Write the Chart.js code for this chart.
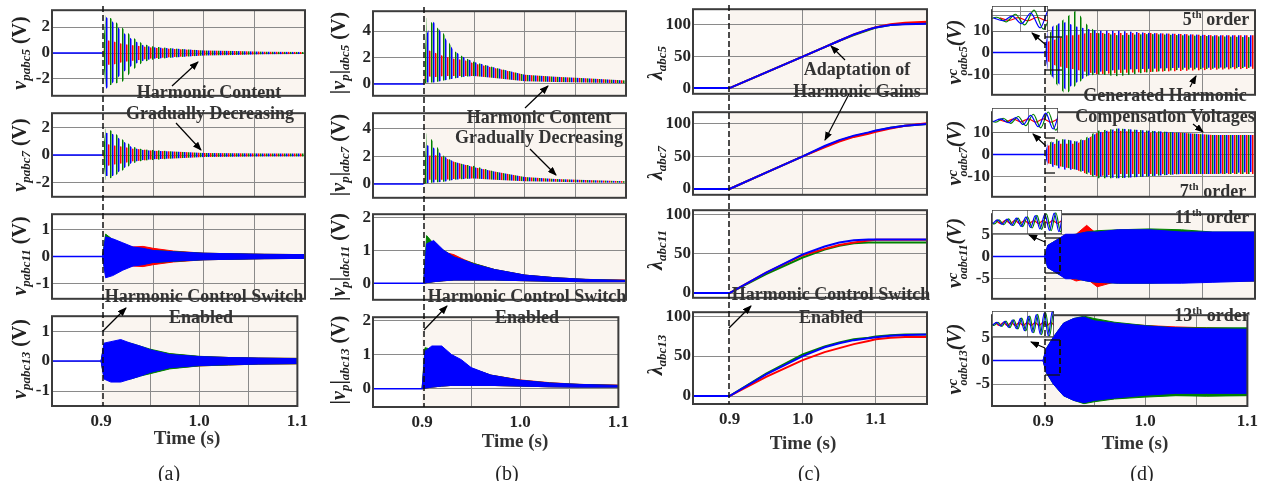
<!DOCTYPE html>
<html>
<head>
<meta charset="utf-8">
<script src="https://cdn.jsdelivr.net/npm/chart.js@4.4.0/dist/chart.umd.min.js"></script>
<style>
body{margin:0;background:#fff;width:1263px;height:481px;position:relative;overflow:hidden;font-family:'Liberation Serif','Times New Roman',serif;}
.box{position:absolute;}
.box canvas{display:block;}
.note{position:absolute;transform:translate(-50%,-50%);white-space:nowrap;font-weight:bold;font-size:18px;color:#333;z-index:6;line-height:1;}
.note sup{font-size:11px;vertical-align:7px;line-height:0;}
.ytl{position:absolute;transform:translate(-50%,-50%) rotate(-90deg);white-space:nowrap;font-weight:bold;font-size:20px;color:#222;z-index:6;line-height:1;}
.ytl sub{font-size:13px;vertical-align:-4px;line-height:0;font-weight:bold;}
.ss{display:inline-block;vertical-align:-6px;line-height:11px;font-size:12px;text-align:left;}
.ss span{display:block;}
.ss span.c{font-size:15px;}
.cap{position:absolute;transform:translate(-50%,-50%);white-space:nowrap;font-size:20px;color:#222;z-index:6;}
.tt{position:absolute;transform:translate(-50%,-50%);white-space:nowrap;font-size:19px;font-weight:bold;color:#333;z-index:6;}
svg{position:absolute;left:0;top:0;z-index:5;}
</style>
</head>
<body>
<script>
// colours of the three phases
const C_RED = '#ff0000', C_GREEN = '#008000', C_BLUE = '#0000ff';
const beige = '#faf5f0';

// time samples (s)
const tPre = [0.85, 0.9];
const tOsc = [0.9, 0.903, 0.91, 0.92, 0.93, 0.94, 0.95, 0.97, 1.0, 1.03, 1.06, 1.1];
const tGain = [0.85, 0.9, 0.95, 1.0, 1.03, 1.05, 1.07, 1.09, 1.1, 1.12, 1.14, 1.17];

// (a) v_pabc envelopes (upper / lower)
const a5BlueHi = [0, 2.8, 2.4, 1.6, 1.0, 0.6, 0.45, 0.35, 0.2, 0.15, 0.1, 0.08];
const a5BlueLo = [0, -2.8, -2.3, -1.5, -0.9, -0.6, -0.45, -0.35, -0.2, -0.15, -0.1, -0.08];
const a5GreenHi = [0, 2.9, 2.6, 1.9, 1.2, 0.7, 0.5, 0.35, 0.2, 0.15, 0.1, 0.08];
const a5GreenLo = [0, -2.6, -2.4, -2.2, -1.3, -0.7, -0.5, -0.35, -0.2, -0.15, -0.1, -0.08];
const a5RedHi = [0, 1.0, 0.9, 0.7, 0.6, 0.5, 0.4, 0.3, 0.2, 0.15, 0.1, 0.08];
const a5RedLo = [0, -0.9, -0.9, -0.7, -0.6, -0.5, -0.4, -0.3, -0.2, -0.15, -0.1, -0.08];

const a7BlueHi = [0, 1.6, 1.5, 1.0, 0.5, 0.35, 0.3, 0.25, 0.15, 0.12, 0.1, 0.1];
const a7BlueLo = [0, -1.5, -1.5, -1.0, -0.5, -0.35, -0.3, -0.25, -0.15, -0.12, -0.1, -0.1];
const a7GreenHi = [0, 1.9, 1.7, 1.1, 0.6, 0.4, 0.35, 0.25, 0.15, 0.12, 0.1, 0.1];
const a7GreenLo = [0, -1.8, -1.6, -1.1, -0.6, -0.4, -0.35, -0.25, -0.15, -0.12, -0.1, -0.1];
const a7RedHi = [0, 0.8, 0.7, 0.6, 0.45, 0.4, 0.3, 0.25, 0.15, 0.12, 0.1, 0.1];
const a7RedLo = [0, -0.8, -0.7, -0.6, -0.45, -0.4, -0.3, -0.25, -0.15, -0.12, -0.1, -0.1];

const a11BlueHi = [0, 0.72, 0.65, 0.5, 0.35, 0.3, 0.22, 0.17, 0.12, 0.1, 0.08, 0.07];
const a11BlueLo = [0, -0.78, -0.7, -0.5, -0.35, -0.3, -0.22, -0.17, -0.12, -0.1, -0.08, -0.07];
const a11GreenHi = [0, 0.82, 0.62, 0.45, 0.3, 0.25, 0.22, 0.18, 0.12, 0.1, 0.08, 0.07];
const a11GreenLo = [0, -0.7, -0.62, -0.45, -0.3, -0.25, -0.22, -0.18, -0.12, -0.1, -0.08, -0.07];
const a11RedHi = [0, 0.6, 0.5, 0.4, 0.35, 0.37, 0.3, 0.2, 0.12, 0.1, 0.08, 0.07];
const a11RedLo = [0, -0.6, -0.5, -0.4, -0.35, -0.37, -0.3, -0.2, -0.12, -0.1, -0.08, -0.07];

const a13BlueHi = [0, 0.6, 0.65, 0.72, 0.6, 0.5, 0.38, 0.22, 0.15, 0.12, 0.1, 0.08];
const a13BlueLo = [0, -0.6, -0.7, -0.7, -0.6, -0.5, -0.38, -0.22, -0.15, -0.12, -0.1, -0.08];
const a13GreenHi = [0, 0.55, 0.6, 0.65, 0.6, 0.5, 0.4, 0.25, 0.16, 0.12, 0.1, 0.09];
const a13GreenLo = [0, -0.55, -0.6, -0.65, -0.6, -0.5, -0.42, -0.26, -0.16, -0.13, -0.1, -0.09];
const a13RedHi = [0, 0.5, 0.55, 0.6, 0.55, 0.45, 0.35, 0.24, 0.15, 0.12, 0.1, 0.09];
const a13RedLo = [0, -0.5, -0.55, -0.6, -0.55, -0.45, -0.35, -0.24, -0.16, -0.13, -0.1, -0.09];

// (b) |v_p| envelopes
const b5GreenHi = [0, 5.0, 4.5, 3.8, 2.5, 2.0, 1.65, 1.25, 0.7, 0.55, 0.42, 0.25];
const b5GreenLo = [0, 0.1, 0.1, 0.25, 0.4, 0.55, 0.6, 0.45, 0.2, 0.15, 0.1, 0.05];
const b5BlueHi = [0, 3.8, 4.7, 3.6, 2.5, 2.0, 1.65, 1.25, 0.7, 0.55, 0.42, 0.25];
const b5BlueLo = [0, 0.1, 0.1, 0.25, 0.4, 0.55, 0.6, 0.45, 0.2, 0.15, 0.1, 0.05];
const b5RedHi = [0, 2.6, 2.4, 2.1, 1.9, 1.8, 1.55, 1.2, 0.7, 0.55, 0.42, 0.25];
const b5RedLo = [0, 0.6, 0.5, 0.6, 0.6, 0.6, 0.6, 0.45, 0.2, 0.15, 0.1, 0.05];

const b7GreenHi = [0, 3.65, 3.0, 2.0, 1.6, 1.4, 1.3, 0.9, 0.5, 0.35, 0.28, 0.2];
const b7GreenLo = [0, 0.05, 0.1, 0.15, 0.3, 0.35, 0.4, 0.3, 0.2, 0.15, 0.1, 0.08];
const b7BlueHi = [0, 2.8, 2.6, 2.0, 1.6, 1.4, 1.2, 0.9, 0.5, 0.35, 0.28, 0.2];
const b7BlueLo = [0, 0.05, 0.1, 0.15, 0.3, 0.35, 0.4, 0.3, 0.2, 0.15, 0.1, 0.08];
const b7RedHi = [0, 2.0, 2.1, 1.9, 1.6, 1.4, 1.2, 0.9, 0.5, 0.35, 0.28, 0.2];
const b7RedLo = [0, 0.3, 0.3, 0.3, 0.35, 0.4, 0.4, 0.3, 0.2, 0.15, 0.1, 0.08];

const b11GreenHi = [0, 1.45, 1.2, 1.0, 0.8, 0.7, 0.6, 0.42, 0.25, 0.17, 0.12, 0.09];
const b11BlueHi = [0, 1.2, 1.3, 1.0, 0.8, 0.7, 0.58, 0.42, 0.25, 0.17, 0.12, 0.09];
const b11RedHi = [0, 1.0, 1.0, 0.95, 0.87, 0.72, 0.6, 0.42, 0.25, 0.17, 0.12, 0.1];
const b11Lo = [0, 0.02, 0.05, 0.08, 0.1, 0.1, 0.1, 0.1, 0.08, 0.06, 0.05, 0.05];

const b13BlueHi = [0, 1.1, 1.25, 1.25, 1.0, 0.85, 0.62, 0.4, 0.25, 0.17, 0.13, 0.1];
const b13GreenHi = [0, 1.2, 1.15, 1.15, 0.95, 0.8, 0.6, 0.4, 0.25, 0.17, 0.13, 0.1];
const b13RedHi = [0, 0.9, 1.0, 1.0, 0.9, 0.75, 0.6, 0.4, 0.26, 0.18, 0.13, 0.11];
const b13Lo = [0, 0.02, 0.05, 0.08, 0.1, 0.1, 0.1, 0.1, 0.08, 0.06, 0.05, 0.05];

// (c) adaptive gains lambda
const c5Blue = [0, 0, 25, 50, 65, 75, 85, 93, 96, 100, 101, 102];
const c5Green = [0, 0, 25, 50, 65, 75, 84, 92, 96, 100, 102, 103];
const c5Red = [0, 0, 25, 50, 65, 75, 85, 93, 96.5, 101, 103.5, 105];
const c7Blue = [0, 0, 25, 50, 66, 75, 82, 87, 90, 94, 97, 100];
const c7Green = [0, 0, 25, 50, 65, 74, 81, 86, 89, 94, 97, 100];
const c7Red = [0, 0, 25, 50, 64, 73, 80, 85, 88, 93, 97, 101];
const c11Blue = [0, 0, 26, 49, 59, 64, 67, 68, 68, 68, 68, 68];
const c11Green = [0, 0, 24, 45, 55, 60, 63, 64, 64, 64, 64, 64];
const c11Red = [0, 0, 26, 48, 56, 61, 64, 66.5, 67.5, 67.5, 67.5, 67.5];
const c13Blue = [0, 0, 27, 50, 61, 66, 70, 72.5, 73.5, 75.5, 76.5, 77];
const c13Green = [0, 0, 28, 52, 62, 67, 71, 73, 74.5, 76, 77, 77];
const c13Red = [0, 0, 24, 45, 55, 60, 65, 69, 71, 73, 74, 74];

// (d) generated compensation voltage envelopes
const d5BlueHi = [0, 10, 13, 14, 12, 11, 10, 10, 9, 8.5, 8, 8];
const d5BlueLo = [0, -8, -13, -17, -14, -11, -9, -8, -7.5, -7, -7, -6.5];
const d5GreenHi = [0, 8, 12, 16, 19.5, 13, 9, 8, 8.5, 8, 7.5, 7];
const d5GreenLo = [0, -8, -14, -19.5, -15, -11, -10, -11, -9, -8, -7.5, -7];
const d5RedHi = [0, 5, 6, 8, 8, 9, 9, 9, 9, 8.5, 8, 8];
const d5RedLo = [0, -4, -6, -7, -8, -9, -10, -9.5, -9, -8.5, -8, -7.5];

const d7BlueHi = [0, 5, 6, 7, 6, 7, 10, 12, 11, 10, 9, 9];
const d7BlueLo = [0, -5, -6, -7, -7, -8, -10, -11, -10, -9, -9, -8];
const d7GreenHi = [0, 5, 7, 7, 6, 8, 11, 12, 11, 10, 9, 9];
const d7GreenLo = [0, -4, -5, -6, -7, -9, -11, -11, -10, -9, -9, -9];
const d7RedHi = [0, 4, 5, 5, 5, 7, 10, 11, 10, 10, 9, 9];
const d7RedLo = [0, -4, -5, -6, -7, -9, -10, -9, -9, -9, -9, -9];

const d11BlueHi = [0, 2.5, 3.5, 5, 5, 5.5, 5.5, 6, 6, 5.5, 5.5, 5.5];
const d11BlueLo = [0, -2.5, -3.5, -5, -5, -5.5, -5.8, -6, -6, -6, -5.8, -5.5];
const d11GreenHi = [0, 2.5, 3.5, 4.8, 5, 5.5, 5.8, 6, 6.2, 6, 5.5, 5.5];
const d11GreenLo = [0, -2.5, -3.5, -4.8, -5, -5.5, -5.8, -6, -6, -5.8, -5.5, -5.5];
const d11RedHi = [0, 2, 3, 4.5, 5, 7, 5, 5.5, 5.5, 5.5, 5, 5];
const d11RedLo = [0, -2, -3, -4.5, -5.5, -5, -6.8, -5.5, -5.5, -5.5, -5.5, -5.5];

const d13BlueHi = [0, 2.5, 5, 8, 9, 9.3, 8.5, 8, 7.4, 7, 6.8, 6.7];
const d13BlueLo = [0, -2.5, -5, -7.5, -8.5, -9, -8.5, -8, -7.4, -7, -7, -7];
const d13GreenHi = [0, 2.5, 5, 8, 9, 9.5, 9, 8.2, 7.5, 7, 7, 7];
const d13GreenLo = [0, -2.5, -5, -7.5, -8.5, -9.2, -8.8, -8.2, -7.8, -7.5, -7.6, -7.5];
const d13RedHi = [0, 2.3, 4.8, 7.8, 8.8, 9, 8.5, 8, 7.5, 7.2, 7, 6.8];
const d13RedLo = [0, -2.3, -4.8, -7.3, -8.3, -8.8, -8.5, -8.1, -7.6, -7.4, -7.5, -7.4];

// zoomed insets of (d): extrema in cycles
const in5Time = [-0.25, 0.25, 0.75, 1.25, 1.75, 2.25, 2.75, 3.25];
const in5Green = [-0.1, 0.15, -0.25, 0.4, -0.5, 0.75, -0.85, 0.9];
const in5Blue = [0.1, -0.15, 0.25, -0.4, 0.5, -0.75, 0.85, -0.9];
const in5Red = [0.1, -0.12, 0.12, -0.15, 0.15, -0.15, 0.15, -0.15];
const in7Time = [-0.25, 0.25, 0.75, 1.25, 1.75, 2.25, 2.75, 3.25, 3.75, 4.25, 4.75];
const in7Green = [0.1, -0.15, 0.2, -0.25, 0.35, -0.45, 0.55, -0.65, 0.75, -0.85, 0.9];
const in7Blue = [-0.1, 0.15, -0.2, 0.25, -0.35, 0.45, -0.55, 0.65, -0.75, 0.85, -0.9];
const in7Red = [0.1, -0.1, 0.12, -0.12, 0.14, -0.14, 0.15, -0.15, 0.12, -0.12, 0.1];
const in11Time = [-0.25, 0.25, 0.75, 1.25, 1.75, 2.25, 2.75, 3.25, 3.75, 4.25, 4.75, 5.25, 5.75, 6.25, 6.75, 7.25, 7.75];
const in11Green = [0.15, -0.18, 0.2, -0.25, 0.28, -0.32, 0.36, -0.42, 0.48, -0.55, 0.6, -0.68, 0.74, -0.8, 0.85, -0.9, 0.9];
const in11Blue = [-0.15, 0.2, -0.22, 0.26, -0.3, 0.35, -0.4, 0.45, -0.5, 0.58, -0.64, 0.7, -0.76, 0.82, -0.88, 0.92, -0.92];
const in11Red = [0.15, -0.15, 0.15, -0.14, 0.14, -0.14, 0.13, -0.13, 0.13, -0.12, 0.12, -0.12, 0.12, -0.12, 0.12, -0.12, 0.12];
const in13Time = [-0.25, 0.25, 0.75, 1.25, 1.75, 2.25, 2.75, 3.25, 3.75, 4.25, 4.75, 5.25, 5.75, 6.25, 6.75, 7.25, 7.75, 8.25];
const in13Green = [0.1, -0.12, 0.15, -0.2, 0.25, -0.3, 0.35, -0.42, 0.5, -0.58, 0.66, -0.74, 0.82, -0.9, 0.95, -1.0, 1.0, -1.0];
const in13Blue = [-0.1, 0.14, -0.18, 0.22, -0.28, 0.34, -0.4, 0.48, -0.56, 0.64, -0.72, 0.8, -0.88, 0.95, -1.0, 1.05, -1.05, 1.05];
const in13Red = [0.12, -0.12, 0.12, -0.12, 0.12, -0.12, 0.12, -0.12, 0.12, -0.12, 0.12, -0.12, 0.12, -0.12, 0.12, -0.12, 0.12, -0.12];
const inShift = [0, 0.33, 0.67]; // green, blue, red

// tick values
const xLabels = [0.9, 1.0, 1.1];
const ticksA5 = [-2, 0, 2], ticksA11 = [-1, 0, 1];
const ticksB5 = [0, 2, 4], ticksB11 = [0, 1, 2];
const ticksC = [0, 50, 100];
const ticksD5 = [-10, 0, 10], ticksD11 = [-5, 0, 5];

// layout of the four columns
const cols = {
  a: {L: 52, R: 305, xmax: 1.1, grid: [0.9, 0.95, 1.0, 1.05, 1.1], rows: [[6, 100], [109, 201], [210, 303], [312, 406]]},
  b: {L: 373, R: 626, xmax: 1.1, grid: [0.9, 0.95, 1.0, 1.05, 1.1], rows: [[7, 100], [109, 202], [210, 304], [313, 407]]},
  c: {L: 693, R: 927, xmax: 1.17, grid: [0.9, 1.0, 1.1], rows: [[5, 98], [108, 199], [206, 302], [308, 404]]},
  d: {L: 992, R: 1255, xmax: 1.1, grid: [0.9, 0.95, 1.0, 1.05, 1.1], rows: [[6, 99], [108, 201], [210, 303], [311, 406]]}
};

const tickFont = {family: "'Liberation Serif', serif", size: 17, weight: 'bold'};

const frame = {
  id: 'frame',
  beforeDraw(chart, args, o) {
    const a = chart.chartArea, g = chart.ctx;
    g.save();
    g.fillStyle = '#fff';
    g.fillRect(a.left, a.top, a.width, a.height);
    if (o.shade) {
      const x0 = chart.scales.x.getPixelForValue(0.9);
      g.fillStyle = beige;
      g.fillRect(x0, a.top, a.right - x0, a.height);
    }
    g.restore();
  },
  afterDraw(chart, args, o) {
    const a = chart.chartArea, g = chart.ctx;
    g.save();
    g.strokeStyle = '#3c3c3c';
    g.lineWidth = o.lw || 2;
    g.strokeRect(a.left, a.top, a.width, a.height);
    g.restore();
  }
};

function stripe(ctx, col, off) {
  const c = document.createElement('canvas');
  c.width = 6; c.height = 2;
  const g = c.getContext('2d');
  g.fillStyle = col;
  g.fillRect(off, 0, 1.5, 2);
  return ctx.createPattern(c, 'repeat');
}

function pts(t, v) {
  return t.map((x, i) => ({x: x, y: v[i]}));
}

function oscSets(ctx, p) {
  const sets = [{data: pts(tPre, [0, 0]), borderColor: C_BLUE, borderWidth: 1.5, fill: false, order: -1}];
  const phases = [['b', C_BLUE, 4, 0], ['g', C_GREEN, 2, 1], ['r', C_RED, 0, 2]];
  phases.forEach(([k, col, off, ord]) => {
    const hi = p.bands[k][0], lo = p.bands[k][1];
    const striped = p.kind === 'stripe';
    const line = striped ? 'rgba(0,0,0,0)' : col;
    sets.push({data: pts(tOsc, hi), borderColor: line, borderWidth: 1, backgroundColor: striped ? stripe(ctx, col, off) : col, fill: '+1', order: ord});
    sets.push({data: pts(tOsc, lo), borderColor: line, borderWidth: 1, fill: false, order: ord});
  });
  return sets;
}

function gainSets(p) {
  return [
    {data: pts(tGain, p.lines.b), borderColor: C_BLUE, borderWidth: 2, fill: false, order: 0},
    {data: pts(tGain, p.lines.r), borderColor: C_RED, borderWidth: 2, fill: false, order: 1},
    {data: pts(tGain, p.lines.g), borderColor: C_GREEN, borderWidth: 2, fill: false, order: 2}
  ];
}

function makePanel(p) {
  const col = cols[p.col];
  const [T, B] = col.rows[p.row];
  const bottom = p.row === 3;
  const yw = 40, pad = 8, xh = bottom ? 30 : 0;
  const w = col.R - col.L + yw + pad, h = B - T + 2 * pad + xh;
  const div = document.createElement('div');
  div.className = 'box';
  div.style.left = (col.L - yw) + 'px';
  div.style.top = (T - pad) + 'px';
  const cv = document.createElement('canvas');
  cv.width = w; cv.height = h;
  div.appendChild(cv);
  document.body.appendChild(div);
  const ctx = cv.getContext('2d');
  const datasets = p.lines ? gainSets(p) : oscSets(ctx, p);
  new Chart(cv, {
    type: 'line',
    data: {datasets: datasets},
    options: {
      responsive: false, animation: false, events: [],
      layout: {autoPadding: false, padding: {top: pad, right: pad, bottom: pad, left: 0}},
      elements: {point: {radius: 0}, line: {tension: 0}},
      plugins: {legend: {display: false}, tooltip: {enabled: false}, frame: {shade: true}},
      scales: {
        x: {
          type: 'linear', min: 0.85, max: col.xmax,
          afterFit: s => { s.height = xh; },
          afterBuildTicks: s => { s.ticks = col.grid.map(v => ({value: v})); },
          ticks: {display: bottom, autoSkip: false, maxRotation: 0, padding: 5, font: tickFont, color: '#262626',
            callback: v => xLabels.includes(v) ? v.toFixed(1) : ''},
          grid: {drawTicks: false, lineWidth: 1, color: c => (c.tick && c.tick.value === 0.9) ? 'rgba(0,0,0,0)' : '#8a8a8a'},
          border: {display: false}
        },
        y: {
          min: p.ymin, max: p.ymax,
          afterFit: s => { s.width = yw; },
          afterBuildTicks: s => { s.ticks = p.yticks.map(v => ({value: v})); },
          ticks: {padding: 2, font: tickFont, color: '#262626', callback: v => String(v)},
          grid: {drawTicks: false, lineWidth: 1, color: '#8a8a8a'},
          border: {display: false}
        }
      }
    },
    plugins: [frame]
  });
}

function makeInset(q) {
  const div = document.createElement('div');
  div.className = 'box';
  div.style.left = q.L + 'px';
  div.style.top = q.T + 'px';
  div.style.zIndex = 3;
  const cv = document.createElement('canvas');
  cv.width = q.R - q.L; cv.height = q.B - q.T;
  div.appendChild(cv);
  document.body.appendChild(div);
  const mk = (v, i, col) => ({data: pts(q.time.map(t => t + inShift[i]), v), borderColor: col, borderWidth: 1.2,
    cubicInterpolationMode: 'monotone', fill: false});
  new Chart(cv, {
    type: 'line',
    data: {datasets: [mk(q.blue, 1, C_BLUE), mk(q.green, 0, C_GREEN), mk(q.red, 2, C_RED)]},
    options: {
      responsive: false, animation: false, events: [],
      layout: {autoPadding: false, padding: 0},
      elements: {point: {radius: 0}},
      plugins: {legend: {display: false}, tooltip: {enabled: false}, frame: {shade: false, lw: 1.5}},
      scales: {
        x: {type: 'linear', min: 0, max: q.span, afterFit: s => { s.height = 0; },
          afterBuildTicks: s => { s.ticks = [{value: q.gx}]; },
          ticks: {display: false}, grid: {drawTicks: false, color: '#8a8a8a'}, border: {display: false}},
        y: {min: -1.1, max: 1.1, afterFit: s => { s.width = 0; },
          afterBuildTicks: s => { s.ticks = q.gy.map(v => ({value: v})); },
          ticks: {display: false}, grid: {drawTicks: false, color: '#8a8a8a'}, border: {display: false}}
      }
    },
    plugins: [frame]
  });
}

const panels = [
  {col: 'a', row: 0, ymin: -3.3, ymax: 3.3, yticks: ticksA5, kind: 'stripe', bands: {b: [a5BlueHi, a5BlueLo], g: [a5GreenHi, a5GreenLo], r: [a5RedHi, a5RedLo]}},
  {col: 'a', row: 1, ymin: -3, ymax: 3, yticks: ticksA5, kind: 'stripe', bands: {b: [a7BlueHi, a7BlueLo], g: [a7GreenHi, a7GreenLo], r: [a7RedHi, a7RedLo]}},
  {col: 'a', row: 2, ymin: -1.55, ymax: 1.55, yticks: ticksA11, kind: 'solid', bands: {b: [a11BlueHi, a11BlueLo], g: [a11GreenHi, a11GreenLo], r: [a11RedHi, a11RedLo]}},
  {col: 'a', row: 3, ymin: -1.5, ymax: 1.5, yticks: ticksA11, kind: 'solid', bands: {b: [a13BlueHi, a13BlueLo], g: [a13GreenHi, a13GreenLo], r: [a13RedHi, a13RedLo]}},
  {col: 'b', row: 0, ymin: -0.9, ymax: 5.5, yticks: ticksB5, kind: 'stripe', bands: {b: [b5BlueHi, b5BlueLo], g: [b5GreenHi, b5GreenLo], r: [b5RedHi, b5RedLo]}},
  {col: 'b', row: 1, ymin: -1, ymax: 5.1, yticks: ticksB5, kind: 'stripe', bands: {b: [b7BlueHi, b7BlueLo], g: [b7GreenHi, b7GreenLo], r: [b7RedHi, b7RedLo]}},
  {col: 'b', row: 2, ymin: -0.5, ymax: 2.1, yticks: ticksB11, kind: 'solid', bands: {b: [b11BlueHi, b11Lo], g: [b11GreenHi, b11Lo], r: [b11RedHi, b11Lo]}},
  {col: 'b', row: 3, ymin: -0.53, ymax: 2.09, yticks: ticksB11, kind: 'solid', bands: {b: [b13BlueHi, b13Lo], g: [b13GreenHi, b13Lo], r: [b13RedHi, b13Lo]}},
  {col: 'c', row: 0, ymin: -9, ymax: 125, yticks: ticksC, lines: {b: c5Blue, g: c5Green, r: c5Red}},
  {col: 'c', row: 1, ymin: -9, ymax: 118, yticks: ticksC, lines: {b: c7Blue, g: c7Green, r: c7Red}},
  {col: 'c', row: 2, ymin: -6, ymax: 105, yticks: ticksC, lines: {b: c11Blue, g: c11Green, r: c11Red}},
  {col: 'c', row: 3, ymin: -10, ymax: 105, yticks: ticksC, lines: {b: c13Blue, g: c13Green, r: c13Red}},
  {col: 'd', row: 0, ymin: -19.5, ymax: 19.5, yticks: ticksD5, kind: 'stripe', bands: {b: [d5BlueHi, d5BlueLo], g: [d5GreenHi, d5GreenLo], r: [d5RedHi, d5RedLo]}},
  {col: 'd', row: 1, ymin: -19.5, ymax: 19.5, yticks: ticksD5, kind: 'stripe', bands: {b: [d7BlueHi, d7BlueLo], g: [d7GreenHi, d7GreenLo], r: [d7RedHi, d7RedLo]}},
  {col: 'd', row: 2, ymin: -9.5, ymax: 9.5, yticks: ticksD11, kind: 'solid', bands: {b: [d11BlueHi, d11BlueLo], g: [d11GreenHi, d11GreenLo], r: [d11RedHi, d11RedLo]}},
  {col: 'd', row: 3, ymin: -9.7, ymax: 9.7, yticks: ticksD11, kind: 'solid', bands: {b: [d13BlueHi, d13BlueLo], g: [d13GreenHi, d13GreenLo], r: [d13RedHi, d13RedLo]}}
];
panels.forEach(makePanel);

const insets = [
  {L: 992, T: 6, R: 1048, B: 32, span: 3, gx: 1.55, gy: [0.3, 0.6], time: in5Time, green: in5Green, blue: in5Blue, red: in5Red},
  {L: 992, T: 108, R: 1058, B: 133, span: 4.4, gx: 2.4, gy: [], time: in7Time, green: in7Green, blue: in7Blue, red: in7Red},
  {L: 992, T: 210, R: 1062, B: 234, span: 7.4, gx: 3.8, gy: [], time: in11Time, green: in11Green, blue: in11Blue, red: in11Red},
  {L: 992, T: 311, R: 1054, B: 337, span: 7.8, gx: 4.5, gy: [], time: in13Time, green: in13Green, blue: in13Blue, red: in13Red}
];
insets.forEach(makeInset);

// y-axis titles
const yTitles = [
  ['<i>v</i><sub><i>pabc5</i></sub> (V)', 19, 53], ['<i>v</i><sub><i>pabc7</i></sub> (V)', 19, 155],
  ['<i>v</i><sub><i>pabc11</i></sub> (V)', 19, 256], ['<i>v</i><sub><i>pabc13</i></sub> (V)', 19, 359],
  ['|<i>v</i><sub><i>p</i></sub>|<sub><i>abc5</i></sub> (V)', 338, 53], ['|<i>v</i><sub><i>p</i></sub>|<sub><i>abc7</i></sub> (V)', 338, 155],
  ['|<i>v</i><sub><i>p</i></sub>|<sub><i>abc11</i></sub> (V)', 338, 257], ['|<i>v</i><sub><i>p</i></sub>|<sub><i>abc13</i></sub> (V)', 338, 360],
  ['<i>λ</i><sub><i>abc5</i></sub>', 655, 63], ['<i>λ</i><sub><i>abc7</i></sub>', 655, 163],
  ['<i>λ</i><sub><i>abc11</i></sub>', 655, 250], ['<i>λ</i><sub><i>abc13</i></sub>', 655, 355],
  ['<i>v</i><span class="ss"><span class="c"><i>c</i></span><span><i>oabc5</i></span></span><i>(V)</i>', 956, 52],
  ['<i>v</i><span class="ss"><span class="c"><i>c</i></span><span><i>oabc7</i></span></span><i>(V)</i>', 956, 153],
  ['<i>v</i><span class="ss"><span class="c"><i>c</i></span><span><i>oabc11</i></span></span><i>(V)</i>', 956, 253],
  ['<i>v</i><span class="ss"><span class="c"><i>c</i></span><span><i>oabc13</i></span></span><i>(V)</i>', 956, 359]
];
yTitles.forEach(([html, x, y]) => {
  const d = document.createElement('div');
  d.className = 'ytl'; d.innerHTML = html;
  d.style.left = x + 'px'; d.style.top = y + 'px';
  document.body.appendChild(d);
});

const notes = [
  ['Harmonic Content', 209, 92], ['Gradually Decreasing', 210, 113],
  ['Harmonic Control Switch', 204, 296], ['Enabled', 201, 317],
  ['Harmonic Content', 539, 117], ['Gradually Decreasing', 539, 137],
  ['Harmonic Control Switch', 527, 296], ['Enabled', 527, 317],
  ['Adaptation of', 857, 69], ['Harmonic Gains', 857, 91],
  ['Harmonic Control Switch', 831, 294], ['Enabled', 831, 317],
  ['Generated Harmonic', 1165, 95], ['Compensation Voltages', 1165, 116],
  ['5<sup>th</sup> order', 1216, 19], ['7<sup>th</sup> order', 1213, 191],
  ['11<sup>th</sup> order', 1212, 217], ['13<sup>th</sup> order', 1212, 315]
];
notes.forEach(([html, x, y]) => {
  const d = document.createElement('div');
  d.className = 'note'; d.innerHTML = html;
  d.style.left = x + 'px'; d.style.top = y + 'px';
  document.body.appendChild(d);
});

[['Time (s)', 187, 438], ['Time (s)', 515, 441], ['Time (s)', 803, 443], ['Time (s)', 1135, 443]].forEach(([s, x, y]) => {
  const d = document.createElement('div');
  d.className = 'tt'; d.textContent = s;
  d.style.left = x + 'px'; d.style.top = y + 'px';
  document.body.appendChild(d);
});
[['(a)', 169, 473], ['(b)', 507, 473], ['(c)', 809, 473], ['(d)', 1142, 473]].forEach(([s, x, y]) => {
  const d = document.createElement('div');
  d.className = 'cap'; d.textContent = s;
  d.style.left = x + 'px'; d.style.top = y + 'px';
  document.body.appendChild(d);
});

// overlay: switch-on dashed lines, arrows, zoom brackets
const arrows = [
  [172, 86, 198, 62], [176, 123, 201, 150], [103, 331, 126, 308],
  [525, 108, 548, 86], [530, 149, 556, 175], [424, 330, 447, 306],
  [845, 60, 831, 46], [849, 94, 825, 140], [729, 328, 751, 306],
  [1190, 87, 1196, 76], [1193, 124, 1203, 132],
  [1046, 45, 1032, 33], [1046, 146, 1033, 134], [1045, 242, 1029, 235], [1045, 348, 1031, 342]
];
const dashCols = [[103, 6, 406], [424, 7, 407], [729, 5, 404], [1045, 6, 406]];
const brackets = [[37, 70, 1062, false], [138, 173, 1055, false], [238, 273, 1060, true], [340, 375, 1060, true]];
let svg = '<svg width="1263" height="481" xmlns="http://www.w3.org/2000/svg"><defs>' +
  '<marker id="ah" markerWidth="9" markerHeight="7" refX="8" refY="3.5" orient="auto" markerUnits="userSpaceOnUse">' +
  '<path d="M0,0 L9,3.5 L0,7 z" fill="#000"/></marker></defs>';
dashCols.forEach(([x, y1, y2]) => {
  svg += `<line x1="${x}" y1="${y1}" x2="${x}" y2="${y2}" stroke="#111" stroke-width="1.5" stroke-dasharray="6,3"/>`;
});
brackets.forEach(([y1, y2, x2, dashed]) => {
  svg += `<line x1="1045" y1="${y1}" x2="${x2}" y2="${y1}" stroke="#111" stroke-width="1.3"/>`;
  svg += `<line x1="1045" y1="${y2}" x2="${x2}" y2="${y2}" stroke="#111" stroke-width="1.3"/>`;
  if (dashed) svg += `<line x1="${x2}" y1="${y1}" x2="${x2}" y2="${y2}" stroke="#111" stroke-width="2" stroke-dasharray="6,3"/>`;
});
arrows.forEach(([x1, y1, x2, y2]) => {
  svg += `<line x1="${x1}" y1="${y1}" x2="${x2}" y2="${y2}" stroke="#000" stroke-width="1.2" marker-end="url(#ah)"/>`;
});
svg += '</svg>';
document.body.insertAdjacentHTML('beforeend', svg);
</script>
</body>
</html>
